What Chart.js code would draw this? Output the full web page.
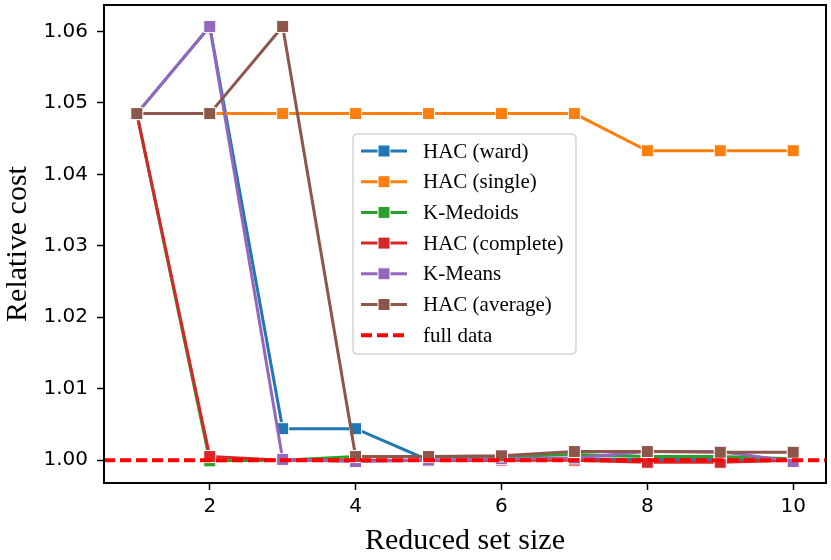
<!DOCTYPE html>
<html>
<head>
<meta charset="utf-8">
<script src="https://cdn.jsdelivr.net/npm/chart.js@4"></script>
<style>
html,body{margin:0;padding:0;background:#fff;}
#c{display:block;}
</style>
</head>
<body>
<canvas id="c" width="831" height="560"></canvas>
<script>
const xValues = [1, 2, 3, 4, 5, 6, 7, 8, 9, 10];
const hacWard     = [1.0485, 1.0607, 1.0044, 1.0044, 1.0000, 1.0000, 1.0002, 1.0001, 1.0001, 1.0000];
const hacSingle   = [1.0485, 1.0485, 1.0485, 1.0485, 1.0485, 1.0485, 1.0485, 1.0433, 1.0433, 1.0433];
const kMedoids    = [1.0485, 0.9999, 1.0000, 1.0005, 1.0005, 1.0005, 1.0008, 1.0005, 1.0005, 1.0002];
const hacComplete = [1.0485, 1.0005, 1.0000, 1.0000, 1.0000, 1.0000, 1.0000, 0.9997, 0.9997, 1.0000];
const kMeans      = [1.0485, 1.0607, 1.0001, 0.9998, 1.0000, 1.0002, 1.0003, 1.0012, 1.0012, 0.9998];
const hacAverage  = [1.0485, 1.0485, 1.0607, 1.0005, 1.0005, 1.0006, 1.0012, 1.0012, 1.0011, 1.0011];
const fullDataValue = 1.0;
const seriesLabels = ["HAC (ward)", "HAC (single)", "K-Medoids", "HAC (complete)", "K-Means", "HAC (average)"];
const fullDataLabel = "full data";
const xTicks = [2, 4, 6, 8, 10];
const yTicks = [1.00, 1.01, 1.02, 1.03, 1.04, 1.05, 1.06];
const xRange = [0.55, 10.45];
const yRange = [0.9968, 1.0637];

const seriesValues = [hacWard, hacSingle, kMedoids, hacComplete, kMeans, hacAverage];
const colors = ["#1f77b4", "#ff7f0e", "#2ca02c", "#d62728", "#9467bd", "#8c564b"];
const fullColor = "#ff0000";

const datasets = seriesValues.map((vals, i) => ({
  label: seriesLabels[i],
  data: xValues.map((x, j) => ({x: x, y: vals[j]})),
  borderColor: colors[i],
  backgroundColor: colors[i],
  borderWidth: 3,
  pointStyle: 'rect',
  pointRadius: 8.5,
  pointHoverRadius: 8.5,
  pointBorderColor: '#ffffff',
  pointBorderWidth: 1,
  pointBackgroundColor: colors[i],
  showLine: true,
  tension: 0,
  order: 20 - i
}));
datasets.push({
  label: fullDataLabel,
  data: [{x: xRange[0], y: fullDataValue}, {x: xRange[1], y: fullDataValue}],
  borderColor: fullColor,
  backgroundColor: fullColor,
  borderWidth: 4,
  borderDash: [11, 5],
  pointRadius: 0,
  pointHoverRadius: 0,
  showLine: true,
  order: 1
});

const legendPlugin = {
  id: 'customLegend',
  afterDatasetsDraw(chart) {
    const ctx = chart.ctx;
    const x0 = 353, y0 = 134, w = 223, h = 220, r = 5;
    ctx.save();
    ctx.beginPath();
    ctx.moveTo(x0 + r, y0);
    ctx.lineTo(x0 + w - r, y0);
    ctx.quadraticCurveTo(x0 + w, y0, x0 + w, y0 + r);
    ctx.lineTo(x0 + w, y0 + h - r);
    ctx.quadraticCurveTo(x0 + w, y0 + h, x0 + w - r, y0 + h);
    ctx.lineTo(x0 + r, y0 + h);
    ctx.quadraticCurveTo(x0, y0 + h, x0, y0 + h - r);
    ctx.lineTo(x0, y0 + r);
    ctx.quadraticCurveTo(x0, y0, x0 + r, y0);
    ctx.closePath();
    ctx.fillStyle = 'rgba(255,255,255,0.8)';
    ctx.fill();
    ctx.strokeStyle = '#d4d4d4';
    ctx.lineWidth = 1.5;
    ctx.stroke();
    const ds = chart.data.datasets;
    ctx.font = '21px "Liberation Serif", "Times New Roman", serif';
    ctx.textBaseline = 'middle';
    ctx.textAlign = 'left';
    for (let i = 0; i < ds.length; i++) {
      const y = 151 + i * 30.7;
      const d = ds[i];
      ctx.beginPath();
      ctx.strokeStyle = d.borderColor;
      ctx.lineWidth = d.borderWidth;
      ctx.setLineDash(d.borderDash || []);
      ctx.moveTo(361, y);
      ctx.lineTo(407, y);
      ctx.stroke();
      ctx.setLineDash([]);
      if (d.pointRadius > 0) {
        const s = 12;
        ctx.fillStyle = d.borderColor;
        ctx.fillRect(384 - s / 2, y - s / 2, s, s);
        ctx.strokeStyle = '#fff';
        ctx.lineWidth = 1;
        ctx.strokeRect(384 - s / 2, y - s / 2, s, s);
      }
      ctx.fillStyle = '#000';
      ctx.fillText(d.label, 423, y + 1);
    }
    ctx.restore();
  },
  afterDraw(chart) {
    const a = chart.chartArea;
    const ctx = chart.ctx;
    ctx.save();
    ctx.strokeStyle = '#000';
    ctx.lineWidth = 2;
    ctx.strokeRect(a.left, a.top, a.right - a.left, a.bottom - a.top);
    ctx.restore();
  }
};

new Chart(document.getElementById('c'), {
  type: 'scatter',
  data: {datasets: datasets},
  plugins: [legendPlugin],
  options: {
    responsive: false,
    animation: false,
    devicePixelRatio: 1,
    layout: {autoPadding: false, padding: {left: 0, right: 5, top: 5, bottom: 0}},
    plugins: {legend: {display: false}, tooltip: {enabled: false}},
    scales: {
      x: {
        type: 'linear',
        min: xRange[0],
        max: xRange[1],
        afterBuildTicks: (s) => { s.ticks = xTicks.map(v => ({value: v})); },
        afterFit: (s) => { s.height = 77; s.paddingLeft = 0; s.paddingRight = 0; },
        border: {display: false},
        grid: {display: true, drawOnChartArea: false, drawTicks: true, tickLength: 7, color: '#000', tickWidth: 1.5},
        ticks: {
          color: '#000',
          font: {family: '"DejaVu Sans"', size: 20},
          padding: 5,
          maxRotation: 0,
          callback: (v) => String(v)
        },
        title: {
          display: true,
          text: 'Reduced set size',
          color: '#000',
          font: {family: '"Liberation Serif", "Times New Roman", serif', size: 30},
          padding: {top: 0, bottom: 1}
        }
      },
      y: {
        type: 'linear',
        min: yRange[0],
        max: yRange[1],
        afterBuildTicks: (s) => { s.ticks = yTicks.map(v => ({value: v})); },
        afterFit: (s) => { s.width = 104; s.paddingTop = 0; s.paddingBottom = 0; },
        border: {display: false},
        grid: {display: true, drawOnChartArea: false, drawTicks: true, tickLength: 7, color: '#000', tickWidth: 1.5},
        ticks: {
          color: '#000',
          font: {family: '"DejaVu Sans"', size: 20},
          padding: 9,
          callback: (v) => Number(v).toFixed(2)
        },
        title: {
          display: true,
          text: 'Relative cost',
          color: '#000',
          font: {family: '"Liberation Serif", "Times New Roman", serif', size: 30},
          padding: {top: 0, bottom: 0}
        }
      }
    }
  }
});
</script>
</body>
</html>
